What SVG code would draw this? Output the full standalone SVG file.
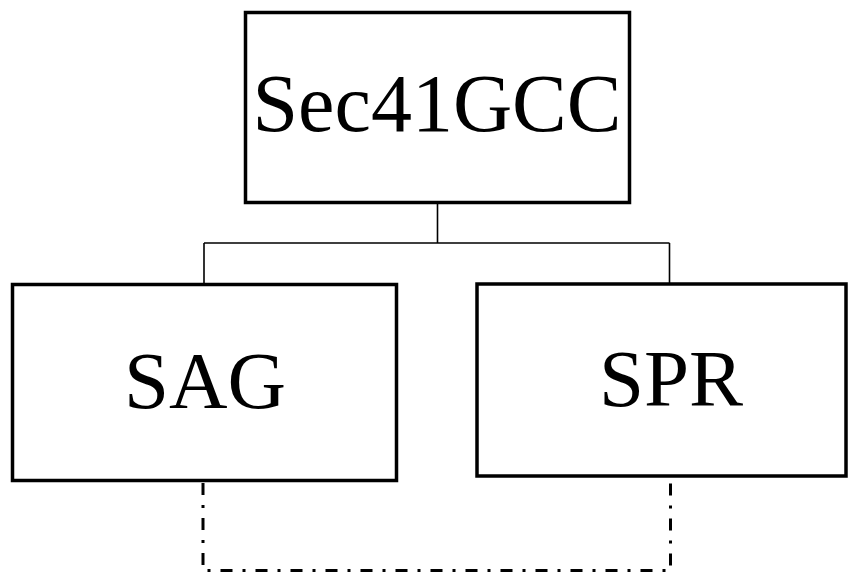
<svg xmlns="http://www.w3.org/2000/svg" width="849" height="572" viewBox="0 0 849 572">
<style>
.box{fill:#fff;stroke:#000;stroke-width:3.5}
.lbl{font-family:"Liberation Serif","Times New Roman",serif;font-size:81px;fill:#000;text-anchor:middle}
.tree{fill:none;stroke:#000;stroke-width:1.6}
.dash{fill:none;stroke:#000;stroke-width:3;stroke-dasharray:12 10 3 10}
</style>
<rect width="849" height="572" fill="#fff"/>
<g id="connectors">
<path class="tree" d="M437.5 204 V243 M204 243 H669.5 M204 243 V284 M669.5 243 V284"/>
<path class="dash" d="M203 483 V570.5 H670.5 V478"/>
</g>
<g id="sec41gcc">
<rect class="box" x="245.5" y="12.5" width="384" height="190"/>
<text class="lbl" x="437" y="131" style="font-size:82px">Sec41GCC</text>
</g>
<g id="sag">
<rect class="box" x="12.5" y="284.5" width="384" height="196"/>
<text class="lbl" x="205" y="408">SAG</text>
</g>
<g id="spr">
<rect class="box" x="477" y="284" width="369" height="192"/>
<text class="lbl" x="671" y="406">SPR</text>
</g>
</svg>
